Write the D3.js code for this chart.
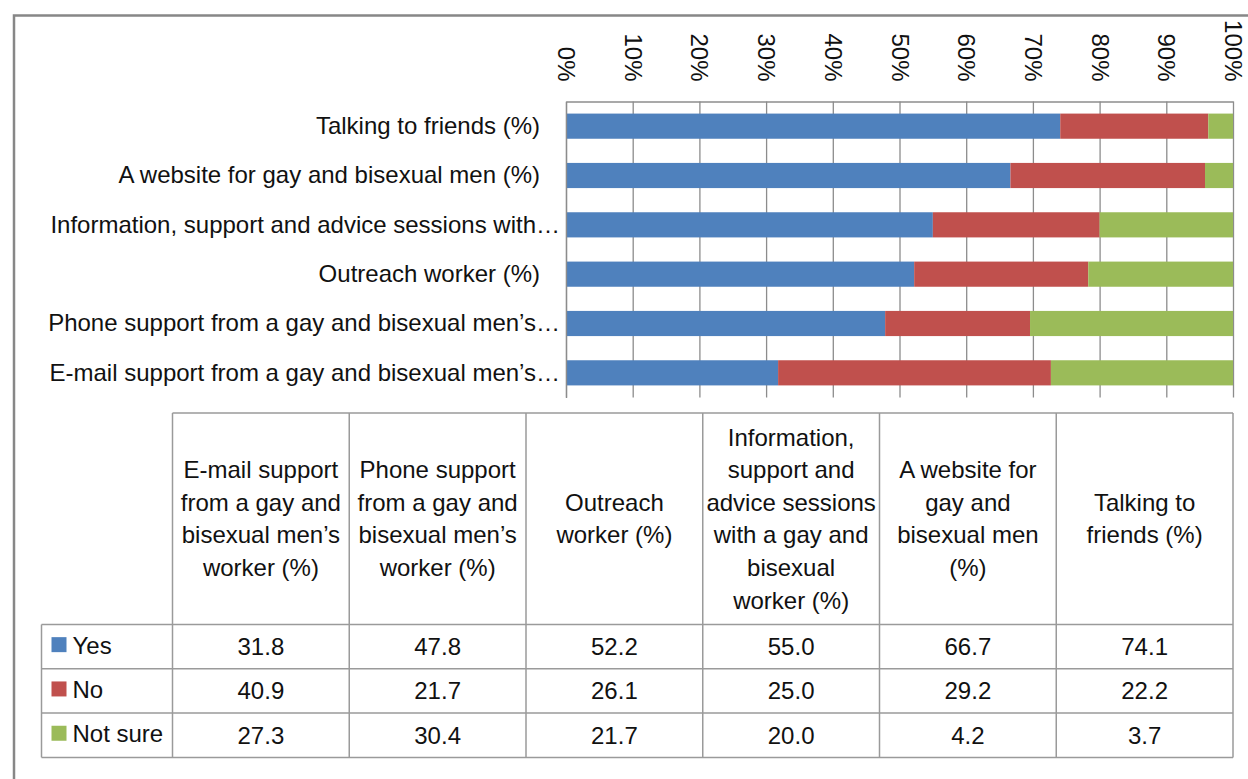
<!DOCTYPE html>
<html>
<head>
<meta charset="utf-8">
<script src="https://cdn.jsdelivr.net/npm/d3@7"></script>
<style>
  body { margin: 0; background: #fff; }
  text { font-family: "Liberation Sans", Arial, sans-serif; fill: #111; }
</style>
</head>
<body>
<script>
// categories in table order (Excel draws the first one at the bottom of the bars)
const categories = [
  'E-mail support from a gay and bisexual men\u2019s worker (%)',
  'Phone support from a gay and bisexual men\u2019s worker (%)',
  'Outreach worker (%)',
  'Information, support and advice sessions with a gay and bisexual worker (%)',
  'A website for gay and bisexual men (%)',
  'Talking to friends (%)'
];
// labels as shown beside the bars
const axisLabels = [
  'E-mail support from a gay and bisexual men\u2019s\u2026',
  'Phone support from a gay and bisexual men\u2019s\u2026',
  'Outreach worker (%)',
  'Information, support and advice sessions with\u2026',
  'A website for gay and bisexual men (%)',
  'Talking to friends (%)'
];
// wrapped header lines in the data table
const headerLines = [
  ['E-mail support', 'from a gay and', 'bisexual men\u2019s', 'worker (%)'],
  ['Phone support', 'from a gay and', 'bisexual men\u2019s', 'worker (%)'],
  ['Outreach', 'worker (%)'],
  ['Information,', 'support and', 'advice sessions', 'with a gay and', 'bisexual', 'worker (%)'],
  ['A website for', 'gay and', 'bisexual men', '(%)'],
  ['Talking to', 'friends (%)']
];
const seriesNames = ['Yes', 'No', 'Not sure'];
const yesValues = [31.8, 47.8, 52.2, 55.0, 66.7, 74.1];
const noValues = [40.9, 21.7, 26.1, 25.0, 29.2, 22.2];
const notSureValues = [27.3, 30.4, 21.7, 20.0, 4.2, 3.7];
const percentTicks = [0, 0.1, 0.2, 0.3, 0.4, 0.5, 0.6, 0.7, 0.8, 0.9, 1];

const colors = ['#4F81BD', '#C0504D', '#9BBB59'];
const width = 1248;
const height = 779;
const plot = { left: 566, right: 1233, top: 101.5, bottom: 397.5 };
const table = { left: 172.5, legendLeft: 41.5, top: 413, headerBottom: 624.5, rowH: 44.3 };

const rows = categories.map((c, i) => ({
  cat: c,
  'Yes': yesValues[i],
  'No': noValues[i],
  'Not sure': notSureValues[i]
}));
const seriesValues = [yesValues, noValues, notSureValues];

const svg = d3.select('body')
  .append('svg')
  .attr('width', width)
  .attr('height', height);

// outer frame (only top and left edges are visible)
svg.append('path')
  .attr('d', `M14,${height}V15.5H${width}`)
  .attr('fill', 'none')
  .attr('stroke', '#878787')
  .attr('stroke-width', 2.5);

const stack = d3.stack()
  .keys(seriesNames)
  .offset(d3.stackOffsetExpand);
const stacked = stack(rows);

const xScale = d3.scaleLinear()
  .domain([0, 1])
  .range([plot.left, plot.right]);

const yScale = d3.scaleBand()
  .domain(categories.slice().reverse())
  .range([plot.top, plot.bottom])
  .paddingInner(0.49)
  .paddingOuter(0.245);

// gridlines
svg.append('g')
  .attr('transform', `translate(0, ${plot.top})`)
  .call(d3.axisTop(xScale).tickValues(percentTicks).tickSize(-(plot.bottom - plot.top)).tickFormat(''))
  .call(g => g.select('.domain').remove())
  .selectAll('line')
  .attr('stroke', '#8c8c8c')
  .attr('stroke-width', 1.3);

// bars
svg.append('g')
  .selectAll('g')
  .data(stacked)
  .join('g')
  .attr('fill', (d, i) => colors[i])
  .selectAll('rect')
  .data(d => d)
  .join('rect')
  .attr('x', d => xScale(d[0]))
  .attr('width', d => xScale(d[1]) - xScale(d[0]))
  .attr('y', d => yScale(d.data.cat))
  .attr('height', yScale.bandwidth());

// value axis on top
const xAxis = svg.append('g')
  .attr('transform', `translate(0, ${plot.top})`)
  .call(d3.axisTop(xScale).tickValues(percentTicks).tickSize(0).tickFormat(d3.format('.0%')));
xAxis.select('.domain').attr('stroke', '#8c8c8c').attr('stroke-width', 1.3);
xAxis.selectAll('text')
  .attr('font-size', 24)
  .attr('font-family', '"Liberation Sans", Arial, sans-serif')
  .attr('fill', '#111')
  .attr('text-anchor', 'end')
  .attr('transform', 'translate(0, -20) rotate(90)')
  .attr('x', 0)
  .attr('y', 0)
  .attr('dy', '0.35em');

// category axis
const yAxis = svg.append('g')
  .attr('transform', `translate(${plot.left}, 0)`)
  .call(d3.axisLeft(yScale).tickSize(0).tickPadding(0)
    .tickFormat(d => axisLabels[categories.indexOf(d)]));
yAxis.select('.domain').attr('stroke', '#8c8c8c').attr('stroke-width', 1.3);
yAxis.selectAll('text')
  .attr('font-size', 24)
  .attr('font-family', '"Liberation Sans", Arial, sans-serif')
  .attr('fill', '#111')
  .attr('x', d => axisLabels[categories.indexOf(d)].endsWith('\u2026') ? -6 : -26);

// data table
const colScale = d3.scaleBand()
  .domain(categories)
  .range([table.left, plot.right]);
const rowY = d3.scaleBand()
  .domain(seriesNames)
  .range([table.headerBottom, table.headerBottom + table.rowH * seriesNames.length]);
const tableBottom = rowY.range()[1];

const grid = svg.append('g')
  .attr('stroke', '#9a9a9a')
  .attr('stroke-width', 1.5)
  .attr('fill', 'none');

// header row box and column separators
grid.append('line')
  .attr('x1', table.left).attr('x2', plot.right)
  .attr('y1', table.top).attr('y2', table.top);
grid.selectAll('.vline')
  .data(categories.concat(['end']))
  .join('line')
  .attr('class', 'vline')
  .attr('x1', d => d === 'end' ? plot.right : colScale(d))
  .attr('x2', d => d === 'end' ? plot.right : colScale(d))
  .attr('y1', table.top)
  .attr('y2', tableBottom);
// row lines
grid.selectAll('.hline')
  .data(seriesNames.concat(['end']))
  .join('line')
  .attr('class', 'hline')
  .attr('x1', table.legendLeft)
  .attr('x2', plot.right)
  .attr('y1', d => d === 'end' ? tableBottom : rowY(d))
  .attr('y2', d => d === 'end' ? tableBottom : rowY(d));
grid.append('line')
  .attr('x1', table.legendLeft).attr('x2', table.legendLeft)
  .attr('y1', table.headerBottom).attr('y2', tableBottom);

// header text
const lineH = 32.6;
const headerMid = (table.top + table.headerBottom) / 2;
svg.append('g')
  .selectAll('text')
  .data(categories)
  .join('text')
  .attr('text-anchor', 'middle')
  .attr('font-size', 24)
  .attr('transform', d => `translate(${colScale(d) + colScale.bandwidth() / 2}, ${headerMid})`)
  .selectAll('tspan')
  .data(d => {
    const lines = headerLines[categories.indexOf(d)];
    return lines.map((t, j) => ({ t, off: (j - (lines.length - 1) / 2) * lineH }));
  })
  .join('tspan')
  .attr('x', 0)
  .attr('y', d => d.off)
  .attr('dy', '0.35em')
  .text(d => d.t);

// legend keys and series names
const legendRows = svg.append('g')
  .selectAll('g')
  .data(seriesNames)
  .join('g')
  .attr('transform', d => `translate(${table.legendLeft}, ${rowY(d)})`);
legendRows.append('rect')
  .attr('x', 10)
  .attr('y', rowY.bandwidth() / 2 - 9.5)
  .attr('width', 15)
  .attr('height', 15)
  .attr('fill', (d, i) => colors[i]);
legendRows.append('text')
  .attr('x', 31)
  .attr('y', rowY.bandwidth() / 2)
  .attr('dy', '0.3em')
  .attr('font-size', 24)
  .text(d => d);

// values
svg.append('g')
  .selectAll('g')
  .data(seriesNames)
  .join('g')
  .attr('transform', d => `translate(0, ${rowY(d) + rowY.bandwidth() / 2})`)
  .selectAll('text')
  .data((d, i) => seriesValues[i].map((v, j) => ({ v, cat: categories[j] })))
  .join('text')
  .attr('x', d => colScale(d.cat) + colScale.bandwidth() / 2)
  .attr('dy', '0.35em')
  .attr('text-anchor', 'middle')
  .attr('font-size', 24)
  .text(d => d3.format('.1f')(d.v));
</script>
</body>
</html>
